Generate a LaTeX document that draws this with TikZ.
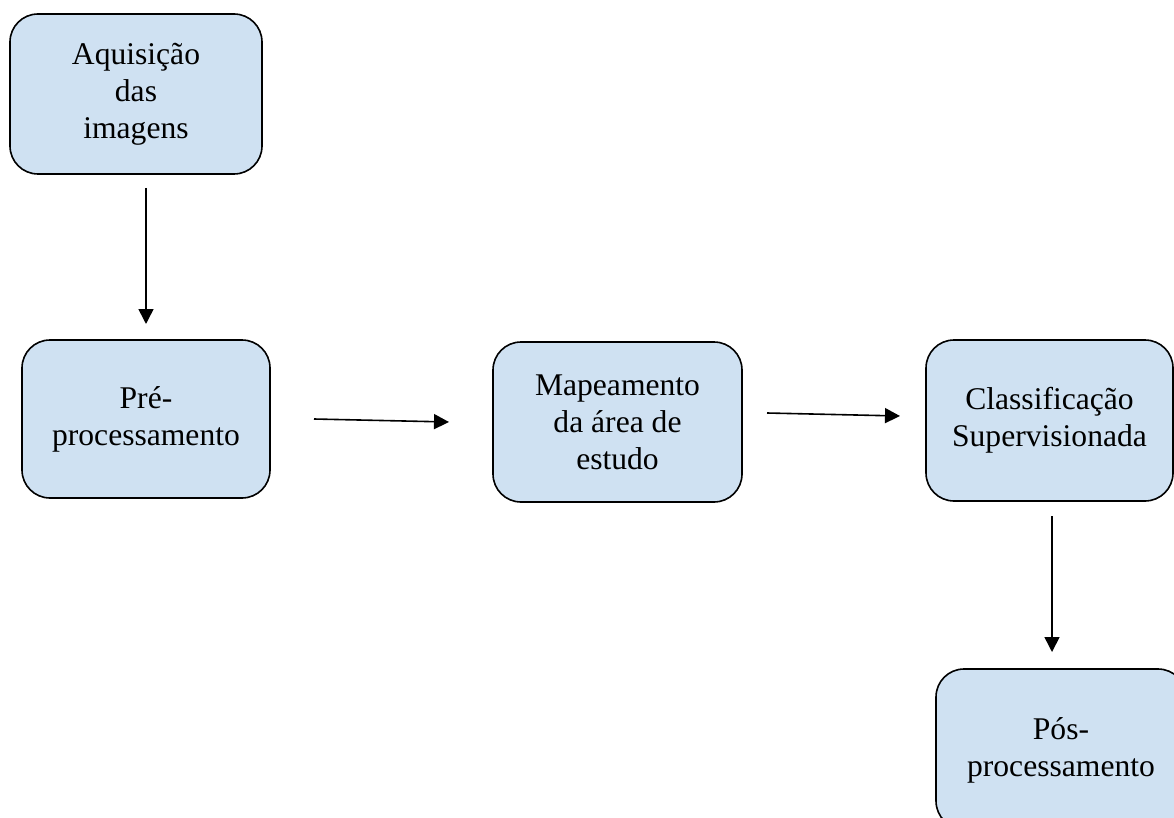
\documentclass[tikz,border=0pt]{standalone}
\usepackage{fontspec}
\setmainfont{Liberation Serif}
\usetikzlibrary{arrows.meta}
\definecolor{boxfill}{HTML}{CFE1F2}
\begin{document}
\begin{tikzpicture}[x=1pt,y=-1pt,
  stepbox/.style={draw=black,fill=boxfill,line width=1.6pt,rounded corners=28pt,
    align=center,inner sep=0pt,font=\fontsize{31.6}{37}\selectfont},
  flow/.style={line width=1.6pt,-{Triangle[length=15pt,width=15pt]}}]
\useasboundingbox (0,0) rectangle (1174,818);
\fill[white] (0,0) rectangle (1174,818);
\node[stepbox,minimum width=252pt,minimum height=160pt] (b1) at (136,94) {Aquisição\\das\\imagens};
\node[stepbox,minimum width=248pt,minimum height=158pt] (b2) at (146,419) {Pré-\\processamento};
\node[stepbox,minimum width=249pt,minimum height=160pt] (b3) at (617.5,422) {Mapeamento\\da área de\\estudo};
\node[stepbox,minimum width=247pt,minimum height=161pt] (b4) at (1049.5,420.5) {Classificação\\Supervisionada};
\node[stepbox,minimum width=250pt,minimum height=160pt,text depth=4pt] (b5) at (1061,749) {Pós-\\processamento};
\coordinate (a1s) at (146,188);
\coordinate (a1e) at (146,324);
\coordinate (a2s) at (314,419);
\coordinate (a2e) at (449,422);
\coordinate (a3s) at (767,413);
\coordinate (a3e) at (900,416);
\coordinate (a4s) at (1052,516);
\coordinate (a4e) at (1052,652);
\draw[flow] (a1s) -- (a1e);
\draw[flow] (a2s) -- (a2e);
\draw[flow] (a3s) -- (a3e);
\draw[flow] (a4s) -- (a4e);
\end{tikzpicture}
\end{document}
